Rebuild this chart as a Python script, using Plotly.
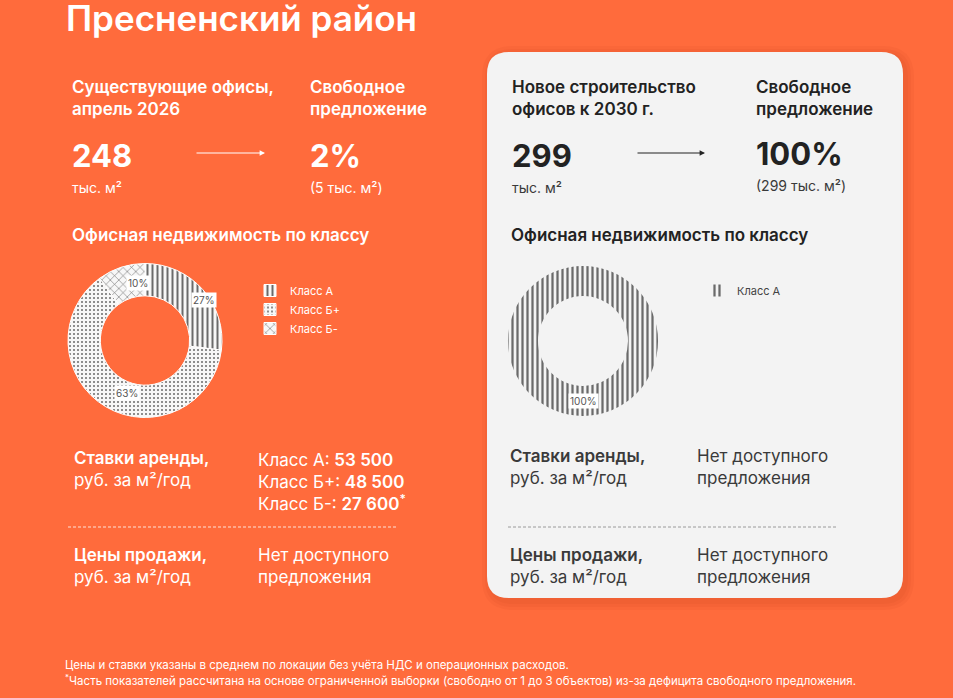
import math
import plotly.graph_objects as go

W, H = 953, 698
ORANGE = "#FF6B3C"
CARD = "#F3F3F3"
FONT = "Inter, Noto Sans, sans-serif"

# --- data ---
district = "Пресненский район"
left_labels = ["Класс А", "Класс Б+", "Класс Б-"]
left_shares = [27, 63, 10]
right_labels = ["Класс А"]
right_shares = [100]

existing_total = 248      # тыс. м2, апрель 2026
existing_free_pct = 2
existing_free = 5
new_total = 299           # тыс. м2, к 2030 г.
new_free_pct = 100
new_free = 299

rent_classes = ["Класс А", "Класс Б+", "Класс Б-"]
rent_values = [53500, 48500, 27600]
rent_note = [False, False, True]


def P(x, y):
    # pixel -> paper
    return x / W, 1 - y / H


def num(v):
    return f"{v:,}".replace(",", " ")


def semi(s):
    return f'<span style="font-weight:600">{s}</span>'


fig = go.Figure()

# donuts
left_dom = dict(x=[68 / W, 222 / W], y=[1 - 418 / H, 1 - 263 / H])
right_dom = dict(x=[508 / W, 658 / W], y=[1 - 416 / H, 1 - 266 / H])
hole_l, hole_r = 0.58, 0.60

fig.add_trace(go.Pie(
    labels=left_labels, values=left_shares, hole=hole_l, sort=False,
    direction="clockwise", textinfo="none", domain=left_dom,
    marker=dict(colors=["#f7f7f7"] * 3,
                line=dict(color="white", width=1),
                pattern=dict(shape=["|", ".", "x"], fgcolor="#6a6a6a",
                             bgcolor="#f7f7f7", size=[5, 4, 6],
                             solidity=[0.4, 0.2, 0.18])),
    legend="legend", hoverinfo="label+percent",
))
# nbsp keeps the right legend entry separate from the left one
fig.add_trace(go.Pie(
    labels=[l + "\u00a0" for l in right_labels], values=right_shares, hole=hole_r, sort=False,
    direction="clockwise", textinfo="none", domain=right_dom,
    marker=dict(colors=[CARD],
                line=dict(color=CARD, width=0),
                pattern=dict(shape=["|"], fgcolor="#6a6a6a",
                             bgcolor=CARD, size=5, solidity=0.45)),
    legend="legend2", hoverinfo="label+percent",
))

ann = []


def text(x, y, s, size=17, color="white", bold=False, anchor="middle", xanchor="left", family=FONT):
    xx, yy = P(x, y)
    w = bold if isinstance(bold, int) and not isinstance(bold, bool) else (600 if bold else 400)
    ann.append(dict(x=xx, y=yy, xref="paper", yref="paper", text=s,
                    showarrow=False, xanchor=xanchor, yanchor=anchor, align="left",
                    font=dict(family=family, size=size, color=color, weight=w)))


def arrow(x0, x1, y, color):
    xx, yy = P(x1, y)
    ann.append(dict(x=xx, y=yy, xref="paper", yref="paper", ax=x0 - x1, ay=0, text="",
                    showarrow=True, arrowhead=2, arrowsize=0.9, arrowwidth=1.2, arrowcolor=color))


# donut percentage labels, placed at mid-angle of each slice
def pie_labels(dom, hole, values):
    x0, x1 = dom["x"][0] * W, dom["x"][1] * W
    y0, y1 = (1 - dom["y"][1]) * H, (1 - dom["y"][0]) * H
    cx, cy = (x0 + x1) / 2, (y0 + y1) / 2
    r = min(x1 - x0, y1 - y0) / 2
    rm = r * (1 + hole) / 2
    tot = sum(values)
    acc = 0
    for v in values:
        a = (acc + v / 2) / tot * 2 * math.pi
        acc += v
        xx, yy = P(cx + rm * math.sin(a), cy - rm * math.cos(a))
        ann.append(dict(x=xx, y=yy, xref="paper", yref="paper", text=f"{v}%",
                        showarrow=False, bgcolor="white", borderpad=1,
                        font=dict(family=FONT, size=10, color="#555")))


pie_labels(left_dom, hole_l, left_shares)
pie_labels(right_dom, hole_r, right_shares)

# ---- left (orange) part ----
text(64, 18, district, size=35, bold=True)
text(70, 75, "Существующие офисы,<br>апрель 2026", bold=True, anchor="top")
text(308, 75, "Свободное<br>предложение", bold=True, anchor="top")
text(70, 155, str(existing_total), size=31, bold=700)
text(70, 187, "тыс. м²", size=14)
arrow(195, 265, 153, "white")
text(308, 155, f"{existing_free_pct}%", size=31, bold=700)
text(308, 187, f"({existing_free} тыс. м²)", size=14)
text(70, 235, "Офисная недвижимость по классу", size=17, bold=True)

text(72, 446, semi("Ставки аренды,") + "<br>руб. за м²/год", anchor="top")
rent_lines = []
for c, v, n in zip(rent_classes, rent_values, rent_note):
    rent_lines.append(f"{c}: " + semi(num(v) + ("<sup>*</sup>" if n else "")))
text(256, 448, "<br>".join(rent_lines), anchor="top")
text(72, 543, semi("Цены продажи,") + "<br>руб. за м²/год", anchor="top")
text(256, 543, "Нет доступного<br>предложения", anchor="top")

text(63, 665, "Цены и ставки указаны в среднем по локации без учёта НДС и операционных расходов.", size=11.5)
text(63, 680, "<sup>*</sup>Часть показателей рассчитана на основе ограниченной выборки (свободно от 1 до 3 объектов) "
     "из-за дефицита свободного предложения.", size=11.5)

# ---- right card ----
DARK = "#222222"
GREY = "#3a3a3a"
text(510, 75, "Новое строительство<br>офисов к 2030 г.", bold=True, color=DARK, anchor="top")
text(754, 75, "Свободное<br>предложение", bold=True, color=DARK, anchor="top")
text(510, 155, str(new_total), size=31, bold=700, color=DARK)
text(510, 187, "тыс. м²", size=14, color=GREY)
arrow(636, 705, 153, DARK)
text(754, 153, f"{new_free_pct}%", size=31, bold=700, color=DARK)
text(754, 185, f"({new_free} тыс. м²)", size=14, color=GREY)
text(509, 235, "Офисная недвижимость по классу", size=17, bold=True, color=DARK)

text(508, 444, semi("Ставки аренды,") + "<br>руб. за м²/год", color=GREY, anchor="top")
text(695, 444, "Нет доступного<br>предложения", color=GREY, anchor="top")
text(508, 543, semi("Цены продажи,") + "<br>руб. за м²/год", color=GREY, anchor="top")
text(695, 543, "Нет доступного<br>предложения", color=GREY, anchor="top")


def rounded(x0, y0, x1, y1, r):
    a0, b0 = P(x0, y0)
    a1, b1 = P(x1, y1)
    rx, ry = r / W, r / H
    return (f"M{a0 + rx},{b0} L{a1 - rx},{b0} Q{a1},{b0} {a1},{b0 - ry} "
            f"L{a1},{b1 + ry} Q{a1},{b1} {a1 - rx},{b1} L{a0 + rx},{b1} "
            f"Q{a0},{b1} {a0},{b1 + ry} L{a0},{b0 - ry} Q{a0},{b0} {a0 + rx},{b0} Z")


shapes = []
for i in range(3):
    d = 3 * (i + 1)
    shapes.append(dict(type="path", xref="paper", yref="paper", layer="below",
                       path=rounded(487 - d + 4, 52 - d + 3, 903 + d + 2, 598 + d + 3, 22 + d),
                       fillcolor="rgba(120,30,0,0.04)", line=dict(width=0)))
shapes.append(dict(type="path", xref="paper", yref="paper", layer="below",
                   path=rounded(487, 52, 903, 598, 22), fillcolor=CARD, line=dict(width=0)))

# dashed separators
for x0, x1, col in [(68, 397, "rgba(255,255,255,0.8)"), (508, 836, "#9a9a9a")]:
    a0, b = P(x0, 527)
    a1, _ = P(x1, 527)
    shapes.append(dict(type="line", xref="paper", yref="paper", x0=a0, x1=a1, y0=b, y1=b,
                       line=dict(color=col, width=1, dash="3px,2px")))

lx, ly = P(250, 276)
rx, ry = P(697, 276)
fig.update_layout(
    width=W, height=H, margin=dict(l=0, r=0, t=0, b=0),
    paper_bgcolor=ORANGE, plot_bgcolor=ORANGE,
    font=dict(family=FONT),
    annotations=ann, shapes=shapes,
    legend=dict(x=lx, y=ly, xanchor="left", yanchor="top", bgcolor="rgba(0,0,0,0)",
                font=dict(family=FONT, size=11, color="white")),
    legend2=dict(x=rx, y=ry, xanchor="left", yanchor="top", bgcolor="rgba(0,0,0,0)",
                 font=dict(family=FONT, size=11, color="#444")),
)

fig.write_html("out.html", config={"displayModeBar": False},
               post_script="document.body.style.margin='0';")
